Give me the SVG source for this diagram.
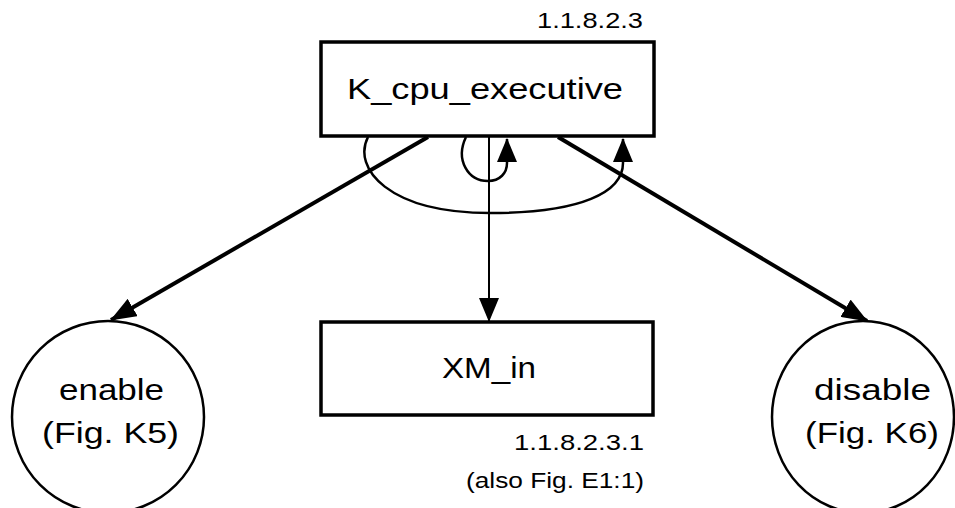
<svg xmlns="http://www.w3.org/2000/svg" width="955" height="508" viewBox="0 0 955 508">
<style>
  .box { fill: #fff; stroke: #000; stroke-width: 3.5; }
  .circ { fill: #fff; stroke: #000; stroke-width: 2.5; }
  .lbl { font-family: "Liberation Sans", Arial, sans-serif; font-size: 29px; fill: #000; }
  .sm { font-family: "Liberation Sans", Arial, sans-serif; font-size: 22px; fill: #000; }
  .thick { fill: none; stroke: #000; stroke-width: 4; marker-end: url(#ah); }
  .loop { fill: none; stroke: #000; stroke-width: 2.5; marker-end: url(#ah2); }
  .thin { fill: none; stroke: #000; stroke-width: 2; marker-end: url(#ah2); }
</style>
<defs>
  <marker id="ah" viewBox="0 0 26 20" markerWidth="26" markerHeight="20" refX="25" refY="10" markerUnits="userSpaceOnUse" orient="auto">
    <path d="M0,0 L26,10 L0,20 Z" fill="#000"/>
  </marker>
  <marker id="ah2" viewBox="0 0 24 20" markerWidth="24" markerHeight="20" refX="23" refY="10" markerUnits="userSpaceOnUse" orient="auto">
    <path d="M0,0 L24,10 L0,20 Z" fill="#000"/>
  </marker>
</defs>
<rect width="955" height="508" fill="#fff"/>

<g id="connectors">
  <path class="thick" d="M428,137 L111,320"/>
  <path class="thick" d="M558,137 L867,321"/>
  <path class="thin" d="M489,137 L489,321"/>
  <path class="loop" d="M368,137 C352,168 388,213 490,213 C582,213 623,192 623,163 L623,139"/>
  <path class="loop" d="M466,137 C455,160 468,181 488,181 C500,181 507,173 507,163 L507,139"/>
</g>

<g id="k_cpu_executive">
  <rect class="box" x="321" y="42" width="333" height="94"/>
  <text class="lbl" x="347" y="99" textLength="276" lengthAdjust="spacingAndGlyphs">K_cpu_executive</text>
  <text class="sm" x="537" y="28" textLength="106" lengthAdjust="spacingAndGlyphs">1.1.8.2.3</text>
</g>

<g id="xm_in">
  <rect class="box" x="321" y="322" width="332" height="93"/>
  <text class="lbl" x="442" y="378" textLength="94" lengthAdjust="spacingAndGlyphs">XM_in</text>
  <text class="sm" x="514" y="450" textLength="130" lengthAdjust="spacingAndGlyphs">1.1.8.2.3.1</text>
  <text class="sm" x="466" y="488" textLength="178" lengthAdjust="spacingAndGlyphs">(also Fig. E1:1)</text>
</g>

<g id="enable">
  <circle class="circ" cx="108" cy="417" r="96"/>
  <text class="lbl" x="59" y="400" textLength="105" lengthAdjust="spacingAndGlyphs">enable</text>
  <text class="lbl" x="42" y="443" textLength="137" lengthAdjust="spacingAndGlyphs">(Fig. K5)</text>
</g>

<g id="disable">
  <ellipse class="circ" cx="863" cy="417" rx="91" ry="96"/>
  <text class="lbl" x="814" y="400" textLength="117" lengthAdjust="spacingAndGlyphs">disable</text>
  <text class="lbl" x="805" y="443" textLength="134" lengthAdjust="spacingAndGlyphs">(Fig. K6)</text>
</g>
</svg>
